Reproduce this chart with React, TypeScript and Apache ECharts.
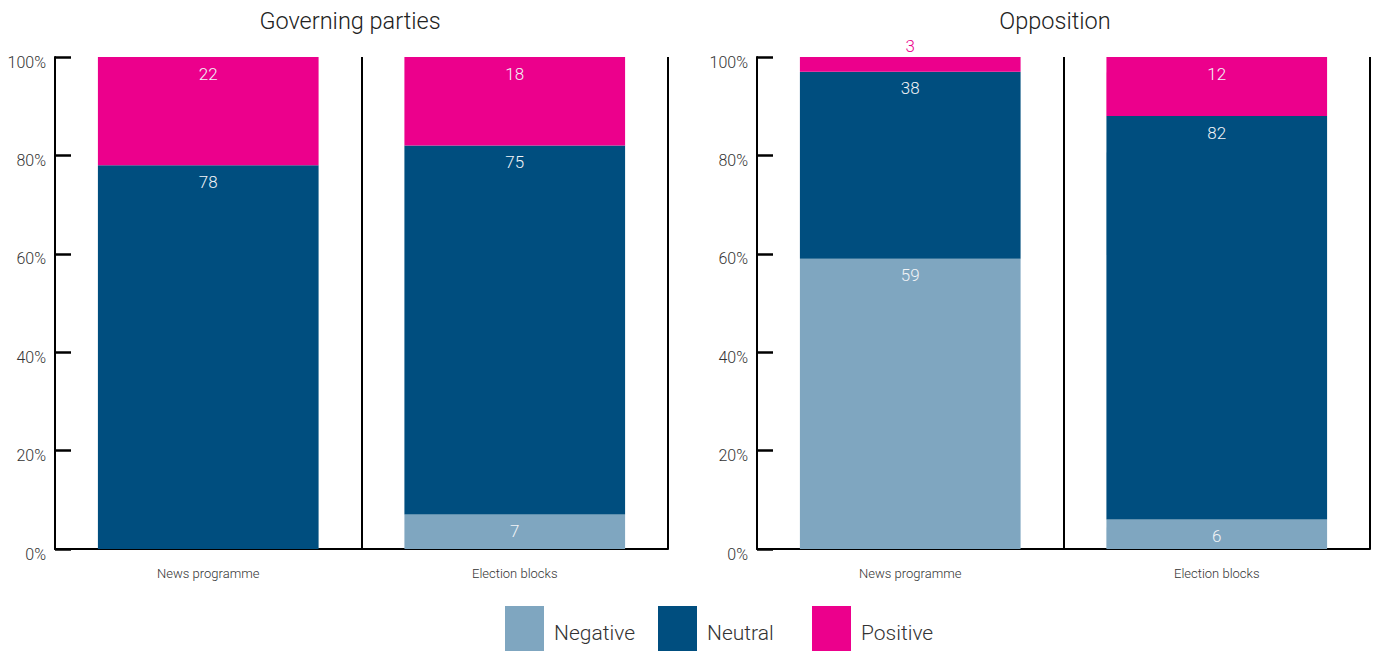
import React, { useEffect, useRef } from "react";
import * as echarts from "echarts";

const panelTitles = ["Governing parties", "Opposition"];
const categories = ["News programme", "Election blocks"];
const seriesNames = ["Negative", "Neutral", "Positive"];
const colors = ["#7FA6C0", "#004E7F", "#EC008C"];
// values per panel: [News programme, Election blocks]
const governingNegative = [0, 7];
const governingNeutral = [78, 75];
const governingPositive = [22, 18];
const oppositionNegative = [59, 6];
const oppositionNeutral = [38, 82];
const oppositionPositive = [3, 12];
const yTicks = [0, 20, 40, 60, 80, 100];

const FONT = "Roboto, 'Noto Sans', sans-serif";

export default function App() {
  const ref = useRef<HTMLDivElement>(null);
  useEffect(() => {
    if (!ref.current) return;
    const chart = echarts.init(ref.current, null, { renderer: "svg" });
    const grids = [
      { left: 55, right: 708, top: 57, bottom: 102 },
      { left: 757, right: 6, top: 57, bottom: 102 },
    ];
    const panelData = [
      [governingNegative, governingNeutral, governingPositive],
      [oppositionNegative, oppositionNeutral, oppositionPositive],
    ];
    const xAxes = grids.map((_, i) => ({
      type: "category",
      gridIndex: i,
      data: categories,
      boundaryGap: true,
      axisLine: { show: true, lineStyle: { color: "#000", width: 2 } },
      axisTick: { show: false },
      splitLine: { show: true, lineStyle: { color: "#000", width: 2 } },
      axisLabel: { color: "#333", fontSize: 13, fontFamily: FONT, fontWeight: 300, margin: 18 },
    }));
    const yAxes = grids.map((_, i) => ({
      type: "value",
      gridIndex: i,
      position: "left",
      min: yTicks[0],
      max: yTicks[yTicks.length - 1],
      interval: yTicks[1] - yTicks[0],
      axisLine: { show: true, lineStyle: { color: "#000", width: 2 } },
      axisTick: { show: true, inside: true, length: 16, lineStyle: { color: "#000", width: 2.5 } },
      splitLine: { show: false },
      axisLabel: {
        color: "#333",
        fontSize: 16,
        fontFamily: FONT,
        fontWeight: 300,
        margin: 9,
        verticalAlign: "top",
        lineHeight: 10,
        formatter: (v: number) => v + "%",
      },
    }));
    const series: any[] = [];
    panelData.forEach((rows, p) => {
      rows.forEach((vals, s) => {
        series.push({
          type: "bar",
          name: seriesNames[s],
          xAxisIndex: p,
          yAxisIndex: p,
          stack: "panel" + p,
          barWidth: "72%",
          itemStyle: { color: colors[s] },
          data: vals.map((v) => {
            const small = v > 0 && v < 5;
            return {
              value: v,
              label: small
                ? { position: "top", distance: 3, color: colors[s] }
                : undefined,
            };
          }),
          label: {
            show: true,
            position: "insideTop",
            distance: 8,
            color: "#f2f4f7",
            fontSize: 17,
            fontFamily: FONT,
            fontWeight: 300,
            formatter: (pr: any) => (pr.value > 0 ? String(pr.value) : ""),
          },
        });
      });
    });
    const legendLefts = [505, 658, 812];
    chart.setOption({
      animation: false,
      title: [
        { text: panelTitles[0], left: 345, top: 4, textAlign: "center" },
        { text: panelTitles[1], left: 1050, top: 4, textAlign: "center" },
      ].map((t) => ({
        ...t,
        textStyle: { fontSize: 23.5, fontWeight: 300, color: "#222", fontFamily: FONT },
      })),
      grid: grids,
      xAxis: xAxes,
      yAxis: yAxes,
      legend: seriesNames.map((n, i) => ({
        data: [n],
        left: legendLefts[i],
        top: 606,
        padding: 0,
        itemWidth: 39,
        itemHeight: 45,
        icon: "rect",
        formatter: (name: string) => "{a|" + name + "}",
        textStyle: {
          fontSize: 21,
          color: "#333",
          fontFamily: FONT,
          fontWeight: 300,
          rich: {
            a: {
              fontSize: 21,
              color: "#333",
              fontFamily: FONT,
              fontWeight: 300,
              padding: [9, 0, 0, 5],
            },
          },
        },
      })),
      series,
    });
    return () => chart.dispose();
  }, []);
  return (
    <div
      ref={ref}
      style={{ position: "fixed", left: 0, top: 0, width: 1376, height: 651, background: "#fff" }}
    />
  );
}
